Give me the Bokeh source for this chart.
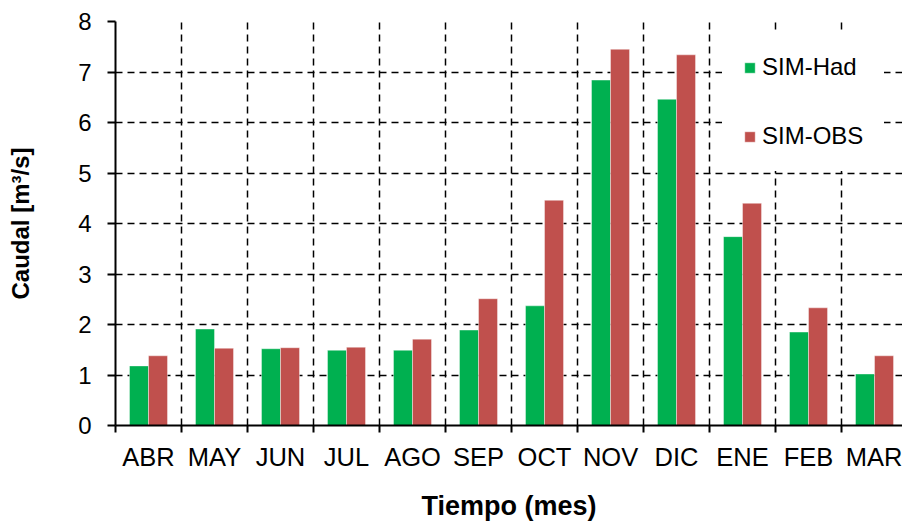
from bokeh.plotting import figure
from bokeh.models import ColumnDataSource, FixedTicker, Legend, LegendItem, Range1d
from bokeh.transform import dodge
from bokeh.embed import file_html
from bokeh.resources import INLINE

months = ["ABR", "MAY", "JUN", "JUL", "AGO", "SEP", "OCT", "NOV", "DIC", "ENE", "FEB", "MAR"]
sim_had = [1.18, 1.91, 1.52, 1.49, 1.49, 1.89, 2.37, 6.84, 6.46, 3.74, 1.85, 1.02]
sim_obs = [1.38, 1.53, 1.54, 1.55, 1.71, 2.51, 4.46, 7.45, 7.34, 4.40, 2.33, 1.38]
y_ticks = [0, 1, 2, 3, 4, 5, 6, 7, 8]
series_names = ["SIM-Had", "SIM-OBS"]
colors = ["#00B050", "#C0504D"]

n = len(months)
centers = [i + 0.5 for i in range(n)]
bounds = list(range(n + 1))

src = ColumnDataSource(dict(x=centers, had=sim_had, obs=sim_obs, month=months))

FONT = "Liberation Sans"

p = figure(width=902, height=523,
           x_range=Range1d(0, 11.924), y_range=Range1d(0, 8),
           output_backend="svg", toolbar_location=None,
           min_border_left=115, min_border_top=21,
           min_border_bottom=97, min_border_right=0)
p.outline_line_color = None
p.background_fill_color = "white"
p.border_fill_color = "white"

bw = 0.288
r1 = p.vbar(x=dodge("x", -bw / 2, range=p.x_range), top="had", width=bw, bottom=0,
            source=src, fill_color=colors[0], line_color="white", line_alpha=0.4, line_width=1)
r2 = p.vbar(x=dodge("x", bw / 2, range=p.x_range), top="obs", width=bw, bottom=0,
            source=src, fill_color=colors[1], line_color="white", line_alpha=0.4, line_width=1)

p.xgrid.ticker = FixedTicker(ticks=bounds[1:])
p.ygrid.ticker = FixedTicker(ticks=y_ticks[1:])
for g in (p.xgrid, p.ygrid):
    g.grid_line_color = "black"
    g.grid_line_dash = "7 5"
    g.grid_line_width = 1.5

xa = p.xaxis[0]
xa.ticker = FixedTicker(ticks=centers, minor_ticks=bounds)
xa.major_label_overrides = {c: m for c, m in zip(centers, months)}
xa.major_tick_out = 0
xa.major_tick_in = 0
xa.minor_tick_out = 7
xa.minor_tick_in = 0
xa.minor_tick_line_color = "black"
xa.minor_tick_line_width = 2
xa.axis_line_color = "black"
xa.axis_line_width = 2
xa.major_label_text_font = FONT
xa.major_label_text_font_size = "25.5px"
xa.major_label_text_color = "black"
xa.major_label_standoff = 10
xa.axis_label = "Tiempo (mes)"
xa.axis_label_text_font = FONT
xa.axis_label_text_font_size = "27px"
xa.axis_label_text_font_style = "bold"
xa.axis_label_text_color = "black"
xa.axis_label_standoff = 17

ya = p.yaxis[0]
ya.ticker = FixedTicker(ticks=y_ticks)
ya.major_tick_out = 8
ya.major_tick_in = 0
ya.minor_tick_out = 0
ya.minor_tick_in = 0
ya.major_tick_line_color = "black"
ya.major_tick_line_width = 2
ya.axis_line_color = "black"
ya.axis_line_width = 2
ya.major_label_text_font = FONT
ya.major_label_text_font_size = "24px"
ya.major_label_text_color = "black"
ya.major_label_standoff = 16
ya.axis_label = "Caudal [m³/s]"
ya.axis_label_text_font = FONT
ya.axis_label_text_font_size = "24px"
ya.axis_label_text_font_style = "bold"
ya.axis_label_text_color = "black"
ya.axis_label_standoff = 41

legend = Legend(items=[LegendItem(label=series_names[0], renderers=[r1]),
                       LegendItem(label=series_names[1], renderers=[r2])],
                location=(607, 254), padding=20, spacing=41,
                glyph_width=13, glyph_height=13, label_standoff=6,
                label_text_font=FONT, label_text_font_size="24px",
                label_text_color="black",
                border_line_color="white", border_line_width=1,
                background_fill_color="white",
                background_fill_alpha=1.0)
p.add_layout(legend)

open("out.html", "w").write(file_html(p, INLINE))
